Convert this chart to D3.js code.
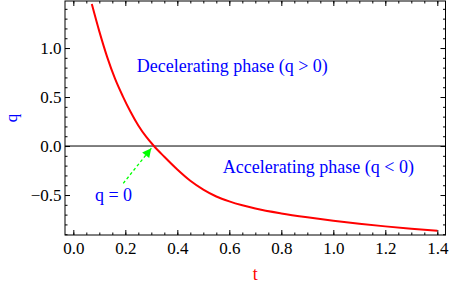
<!DOCTYPE html>
<html>
<head>
<meta charset="utf-8">
<script src="https://cdn.jsdelivr.net/npm/d3@7"></script>
<style>
  body { margin: 0; background: #fff; }
  svg { display: block; }
  svg text { font-family: "Liberation Serif", "Times New Roman", serif; }
</style>
</head>
<body>
<svg width="450" height="285"></svg>
<script>
// curve q(t)
var tVals = [0.071, 0.10, 0.13, 0.16, 0.19, 0.22, 0.25, 0.28, 0.31, 0.35, 0.40, 0.45, 0.50, 0.55, 0.60, 0.65, 0.70, 0.80, 0.90, 1.00, 1.10, 1.20, 1.30, 1.40];
var qVals = [1.45, 1.17, 0.91, 0.69, 0.51, 0.35, 0.21, 0.095, 0.0, -0.11, -0.24, -0.355, -0.445, -0.515, -0.565, -0.605, -0.638, -0.688, -0.728, -0.763, -0.793, -0.82, -0.843, -0.864];

var xTicks = [0.0, 0.2, 0.4, 0.6, 0.8, 1.0, 1.2, 1.4];
var yTicks = [-0.5, 0.0, 0.5, 1.0];

var arrowT = [0.192, 0.300];
var arrowQ = [-0.381, -0.023];

var svg = d3.select("svg");
var margin = {top: 1, right: 4.5, bottom: 50, left: 65};
var width = +svg.attr("width") - margin.left - margin.right;
var height = +svg.attr("height") - margin.top - margin.bottom;

var x = d3.scaleLinear().domain([-0.032, 1.4315]).range([0, width]);
var y = d3.scaleLinear().domain([-0.908, 1.48]).range([height, 0]);

var g = svg.append("g")
  .attr("transform", "translate(" + margin.left + "," + margin.top + ")");

var xMinor = d3.range(0, 1.43, 0.05);
var yMinor = d3.range(-0.9, 1.48, 0.1);
var fmt = d3.format(".1f");
var serif = "'Liberation Serif', 'Times New Roman', serif";

function styleAxis(sel) {
  sel.attr("font-family", serif);
  sel.select(".domain").remove();
  sel.selectAll("line").attr("stroke", "#000");
  sel.selectAll("text").attr("font-size", 17).attr("fill", "#000");
}

// bottom
g.append("g").attr("transform", "translate(0," + height + ")")
  .call(d3.axisBottom(x).tickValues(xMinor).tickSize(-2.5).tickFormat(""))
  .call(styleAxis);
g.append("g").attr("transform", "translate(0," + height + ")")
  .call(d3.axisBottom(x).tickValues(xTicks).tickSize(-5).tickPadding(7).tickFormat(fmt))
  .call(styleAxis);
// top
g.append("g")
  .call(d3.axisTop(x).tickValues(xMinor).tickSize(-2.5).tickFormat(""))
  .call(styleAxis);
g.append("g")
  .call(d3.axisTop(x).tickValues(xTicks).tickSize(-5).tickFormat(""))
  .call(styleAxis);
// left
g.append("g")
  .call(d3.axisLeft(y).tickValues(yMinor).tickSize(-2.5).tickFormat(""))
  .call(styleAxis);
g.append("g")
  .call(d3.axisLeft(y).tickValues(yTicks).tickSize(-5).tickPadding(3.5).tickFormat(fmt))
  .call(styleAxis);
// right
g.append("g").attr("transform", "translate(" + width + ",0)")
  .call(d3.axisRight(y).tickValues(yMinor).tickSize(-2.5).tickFormat(""))
  .call(styleAxis);
g.append("g").attr("transform", "translate(" + width + ",0)")
  .call(d3.axisRight(y).tickValues(yTicks).tickSize(-5).tickFormat(""))
  .call(styleAxis);

// frame
g.append("rect")
  .attr("x", 0).attr("y", 0)
  .attr("width", width).attr("height", height)
  .attr("fill", "none").attr("stroke", "#000").attr("stroke-width", 1);

// q = 0 line
g.append("line")
  .attr("x1", 0).attr("x2", width)
  .attr("y1", y(0)).attr("y2", y(0))
  .attr("stroke", "#000").attr("stroke-width", 1);

// curve
var data = tVals.map(function(t, i) { return {t: t, q: qVals[i]}; });
var line = d3.line()
  .x(function(d) { return x(d.t); })
  .y(function(d) { return y(d.q); })
  .curve(d3.curveMonotoneX);

g.append("path")
  .datum(data)
  .attr("fill", "none")
  .attr("stroke", "#ff0000")
  .attr("stroke-width", 2)
  .attr("d", line);

// arrow
svg.append("defs").append("marker")
  .attr("id", "head")
  .attr("viewBox", "0 0 10 10")
  .attr("refX", 10).attr("refY", 5)
  .attr("markerUnits", "userSpaceOnUse")
  .attr("markerWidth", 11).attr("markerHeight", 9)
  .attr("orient", "auto")
  .append("path")
  .attr("d", "M0,0L10,5L0,10Z")
  .attr("fill", "#00ff00");

g.append("line")
  .attr("x1", x(arrowT[0])).attr("y1", y(arrowQ[0]))
  .attr("x2", x(arrowT[1])).attr("y2", y(arrowQ[1]))
  .attr("stroke", "#00ff00").attr("stroke-width", 1.3)
  .attr("stroke-dasharray", "3,2.5")
  .attr("marker-end", "url(#head)");

// labels
g.append("text")
  .attr("x", x(0.244)).attr("y", y(0.758))
  .attr("font-size", 18).attr("fill", "#0000ff")
  .text("Decelerating phase (q > 0)");

g.append("text")
  .attr("x", x(0.575)).attr("y", y(-0.279))
  .attr("font-size", 18).attr("fill", "#0000ff")
  .text("Accelerating phase (q < 0)");

g.append("text")
  .attr("x", x(0.083)).attr("y", y(-0.561))
  .attr("font-size", 18).attr("fill", "#0000ff")
  .text("q = 0");

// axis titles
svg.append("text")
  .attr("transform", "translate(17," + (margin.top + height / 2) + ") rotate(-90)")
  .attr("text-anchor", "middle")
  .attr("font-size", 17).attr("fill", "#0000ff")
  .text("q");

svg.append("text")
  .attr("x", margin.left + width / 2).attr("y", 280)
  .attr("text-anchor", "middle")
  .attr("font-size", 18).attr("fill", "#ff0000")
  .text("t");
</script>
</body>
</html>
